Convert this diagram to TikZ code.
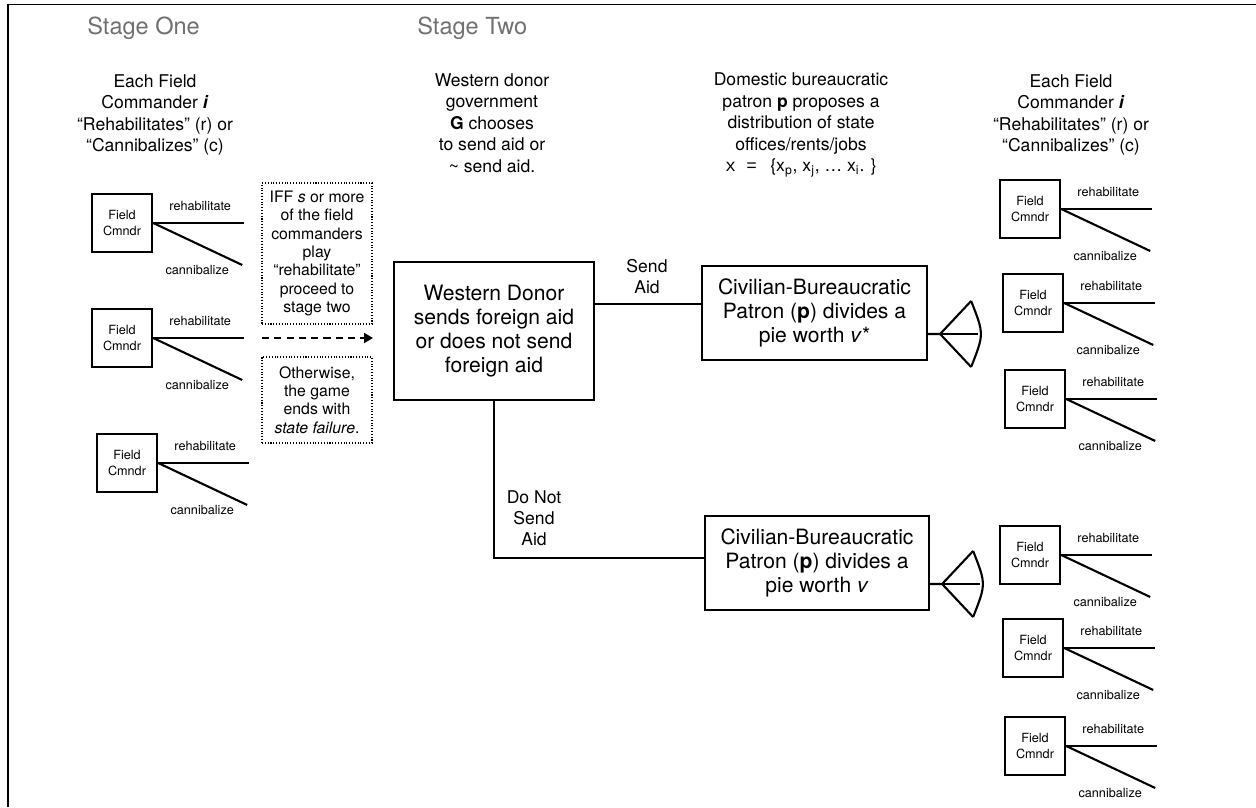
\documentclass[tikz,border=0pt]{standalone}
\usepackage{fontspec}
\setmainfont{TeX Gyre Heros}
\setmonofont{Liberation Mono}
\usetikzlibrary{calc,arrows.meta}
\definecolor{stagegray}{RGB}{112,112,112}
\tikzset{
  stagelbl/.style={font=\fontsize{13.4}{15}\selectfont, text=stagegray, anchor=west, inner sep=0},
  hdr/.style={align=center, font=\fontsize{10}{12.3}\selectfont, inner sep=0},
  cmndr/.style={draw, line width=1.4pt, minimum width=1.2cm, minimum height=1.16cm,
    align=center, inner sep=0, font=\fontsize{7.2}{8.9}\selectfont},
  branch/.style={line width=1.2pt},
  branchlbl/.style={font=\fontsize{7.2}{8.9}\selectfont, inner sep=0},
  note/.style={draw, densely dotted, line width=0.6pt, align=center, minimum width=2.2cm,
    inner sep=0, font=\fontsize{9}{10.4}\selectfont},
  gamebox/.style={draw, line width=1.3pt, align=center, inner sep=0,
    font=\fontsize{12}{13.6}\selectfont},
  edgelbl/.style={align=center, font=\fontsize{10}{12}\selectfont, inner sep=0},
  move/.style={line width=1pt},
  flow/.style={line width=1.3pt, dash pattern=on 4pt off 3pt, -{Triangle[length=5pt,width=5.5pt]}},
}
\begin{document}
\begin{tikzpicture}[x=0.02cm, y=-0.02cm]
  \useasboundingbox (0,0) rectangle (1256,807);
  % frame
  \draw[line width=1.1pt] (8,807) -- (8,4.5) -- (1256,4.5);

  % stages and headings
  \node[stagelbl] (stageone) at (87,28) {Stage One};
  \node[stagelbl] (stagetwo) at (417,28) {Stage Two};
  \node[hdr] (hdrleft) at (155,115) {Each Field\\Commander \textbf{\textit{i}}\\
    “Rehabilitates” (r) or\\“Cannibalizes” (c)};
  \node[hdr] (hdrdonor) at (492,123) {Western donor\\government\\\textbf{G} chooses\\
    to send aid or\\\textasciitilde{} send aid.};
  \node[hdr] (hdrpatron) at (801,125) {Domestic bureaucratic\\patron \textbf{p} proposes a\\
    distribution of state\\offices/rents/jobs\\
    {\ttfamily x = }\,\{x\textsubscript{p}, x\textsubscript{j}, \dots{} x\textsubscript{i}. \}};
  \node[hdr] (hdrright) at (1071,115) {Each Field\\Commander \textbf{\textit{i}}\\
    “Rehabilitates” (r) or\\“Cannibalizes” (c)};

  % field commanders
  \foreach \n/\x/\y in {l1/122/223, l2/122/338, l3/127/463,
      r1/1030/209, r2/1033/303, r3/1035/399,
      r4/1030/555, r5/1033/648, r6/1035/746}{
    \node[cmndr] (\n) at (\x,\y) {Field\\Cmndr};
    \coordinate (\n-r) at ($(\n.east)+(91,0)$);
    \coordinate (\n-c) at ($(\n.east)+(89,42)$);
    \draw[branch] (\n.east) -- (\n-r);
    \draw[branch] (\n.east) -- (\n-c);
    \node[branchlbl] (\n-rl) at ($(\n.east)+(47,-17)$) {rehabilitate};
    \node[branchlbl] (\n-cl) at ($(\n.east)+(44,47)$) {cannibalize};
  }

  % notes between the stages
  \node[note, minimum height=2.82cm] (iff) at (317,253.5) {IFF \textit{s} or more\\of the field\\
    commanders\\play\\“rehabilitate”\\proceed to\\stage two};
  \node[note, minimum height=1.72cm] (otherwise) at (317,400) {Otherwise,\\the game\\ends with\\
    \textit{state failure}.};
  \coordinate (arrtail) at (262,338);
  \coordinate (arrhead) at (373,338);
  \draw[flow] (arrtail) -- (arrhead);

  % stage two
  \node[gamebox, minimum width=4cm, minimum height=2.76cm] (donor) at (494,331)
    {Western Donor\\sends foreign aid\\or does not send\\foreign aid};
  \node[gamebox, minimum width=4.5cm, minimum height=1.88cm] (patronA) at (814.5,313)
    {Civilian-Bureaucratic\\Patron (\textbf{p}) divides a\\pie worth \textit{v}*};
  \node[gamebox, minimum width=4.48cm, minimum height=1.88cm] (patronB) at (817,563)
    {Civilian-Bureaucratic\\Patron (\textbf{p}) divides a\\pie worth \textit{v}};

  \draw[move] (donor.east |- 0,304) -- (patronA.west |- 0,304);
  \draw[move] (donor.south) |- (patronB.west |- 0,558);
  \node[edgelbl] (sendlbl) at (647,277) {Send\\Aid};
  \node[edgelbl] (nosendlbl) at (534,518) {Do Not\\Send\\Aid};

  % fans
  \foreach \p in {patronA,patronB}{
    \coordinate (\p-stem) at ($(\p.east)+(0,21)$);
    \coordinate (\p-apex) at ($(\p-stem)+(12,0)$);
    \coordinate (\p-top) at ($(\p-apex)+(31,-33)$);
    \coordinate (\p-mid) at ($(\p-apex)+(37.5,0)$);
    \coordinate (\p-bot) at ($(\p-apex)+(31,33)$);
    \coordinate (\p-ctl) at ($(\p-apex)+(44,0)$);
    \draw[branch] (\p-stem) -- (\p-apex) -- (\p-top);
    \draw[branch] (\p-apex) -- (\p-bot);
    \draw[move] (\p-apex) -- (\p-mid);
    \draw[branch] (\p-top) .. controls (\p-ctl) .. (\p-bot);
  }
\end{tikzpicture}
\end{document}
